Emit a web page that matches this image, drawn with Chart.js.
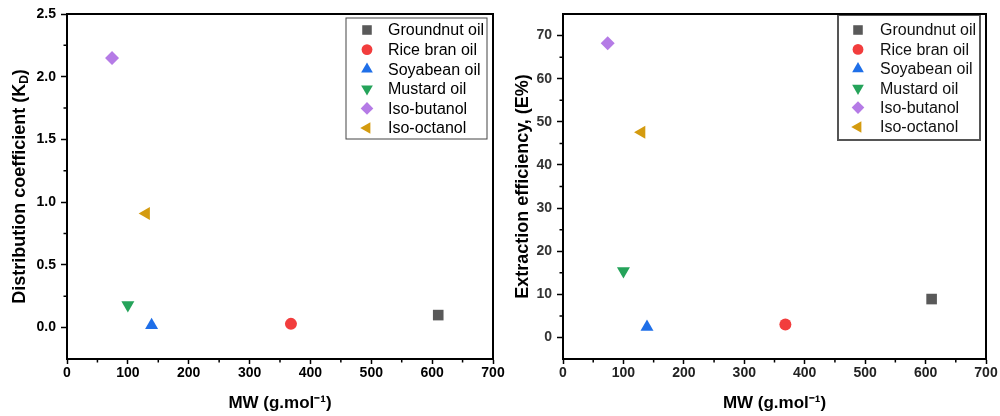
<!DOCTYPE html>
<html><head><meta charset="utf-8">
<script src="https://cdn.jsdelivr.net/npm/chart.js@4/dist/chart.umd.min.js"></script>
<style>
html,body{margin:0;padding:0;background:#fff;}
#wrap{position:relative;width:1000px;height:416px;overflow:hidden;background:#fff;}
.box{position:absolute;top:0;height:416px;}
</style></head><body>
<div id="wrap">
<div class="box" style="left:500px;width:500px"><canvas id="c2" width="500" height="416"></canvas></div>
<div class="box" style="left:0;width:520px"><canvas id="c1" width="520" height="416"></canvas></div>
</div>
<script>
// ---- data ----
const seriesNames = ['Groundnut oil','Rice bran oil','Soyabean oil','Mustard oil','Iso-butanol','Iso-octanol'];
const molecularWeight = [610, 368, 139, 100, 74, 130];
const distributionCoeff = [0.10, 0.03, 0.02, 0.18, 2.15, 0.91];
const extractionEff = [8.9, 3.0, 2.4, 15.4, 68.2, 47.6];
const mwTicks = [0, 100, 200, 300, 400, 500, 600, 700];
const kdTicks = [0.0, 0.5, 1.0, 1.5, 2.0, 2.5];
const effTicks = [0, 10, 20, 30, 40, 50, 60, 70];

// ---- styles ----
const seriesColors = ['#595959','#f23d3d','#1f6fe8','#25a35a','#b57be6','#d49b0f'];
const seriesShapes = ['rect','circle','triangle','triangle','rectRot','triangle'];
const seriesRotation = [0,0,0,180,0,270];
const seriesRadius = [7.5,6,7.5,7.5,7,7.5];
const FONT = '"Liberation Sans", Arial, sans-serif';

function makeDatasets(yVals){
  return seriesNames.map((n,i)=>({
    label:n,
    data:[{x:molecularWeight[i], y:yVals[i]}],
    pointStyle:seriesShapes[i],
    rotation:seriesRotation[i],
    pointRotation:seriesRotation[i],
    pointRadius:seriesRadius[i],
    pointHoverRadius:seriesRadius[i],
    backgroundColor:seriesColors[i],
    borderColor:seriesColors[i],
    borderWidth:0,
    showLine:false
  }));
}

const framePlugin = {
  id:'frame',
  afterDraw(chart){
    const {ctx, chartArea:a} = chart;
    ctx.save();
    ctx.strokeStyle='#000'; ctx.lineWidth=2;
    ctx.strokeRect(a.left, a.top, a.right-a.left, a.bottom-a.top);
    ctx.lineWidth=1.5;
    const xs = chart.scales.x, ys = chart.scales.y;
    const xv = xs.ticks.map(t=>t.value), yv = ys.ticks.map(t=>t.value);
    ctx.beginPath();
    for(let i=0;i<xv.length-1;i++){
      const p = xs.getPixelForValue((xv[i]+xv[i+1])/2);
      ctx.moveTo(p, a.bottom); ctx.lineTo(p, a.bottom+3.5);
    }
    for(let i=0;i<yv.length-1;i++){
      const p = ys.getPixelForValue((yv[i]+yv[i+1])/2);
      ctx.moveTo(a.left, p); ctx.lineTo(a.left-3.5, p);
    }
    ctx.stroke();
    ctx.restore();
  }
};

const boxLegend = {
  id:'boxLegend',
  afterDatasetsDraw(chart, args, o){
    const {ctx} = chart;
    ctx.save();
    ctx.fillStyle='#fff';
    ctx.fillRect(o.left, o.top, o.width, o.height);
    ctx.strokeStyle=o.border; ctx.lineWidth=o.borderWidth;
    ctx.strokeRect(o.left, o.top, o.width, o.height);
    chart.data.datasets.forEach((ds,i)=>{
      const y = o.top + o.firstRow + i*o.rowGap;
      ctx.fillStyle = ds.backgroundColor;
      ctx.strokeStyle = ds.borderColor;
      Chart.helpers.drawPoint(ctx,{pointStyle:ds.pointStyle, rotation:ds.rotation, radius:ds.pointRadius*0.9, borderWidth:0}, o.markerX, y);
      ctx.fillStyle = o.color;
      ctx.font = o.font;
      ctx.textBaseline='middle'; ctx.textAlign='left';
      ctx.fillText(ds.label, o.textX, y+1);
    });
    ctx.restore();
  }
};

const kdTitle = {
  id:'kdTitle',
  afterDraw(chart){
    const {ctx, chartArea:a} = chart;
    ctx.save();
    ctx.translate(20, (a.top+a.bottom)/2);
    ctx.rotate(-Math.PI/2);
    const big = 'bold 18px '+FONT, small = 'bold 12px '+FONT;
    const p1 = 'Distribution coefficient (K', sub = 'D', p2 = ')';
    ctx.font=big; const w1 = ctx.measureText(p1).width, w3 = ctx.measureText(p2).width;
    ctx.font=small; const w2 = ctx.measureText(sub).width;
    let x = -(w1+w2+w3)/2;
    ctx.fillStyle='#000'; ctx.textBaseline='middle'; ctx.textAlign='left';
    ctx.font=big; ctx.fillText(p1, x, 0); x+=w1;
    ctx.font=small; ctx.fillText(sub, x, 5); x+=w2;
    ctx.font=big; ctx.fillText(p2, x, 0);
    ctx.restore();
  }
};

function tickSet(arr){ return s => { s.ticks = arr.map(v=>({value:v})); }; }
function noPad(s){ s.paddingLeft=0; s.paddingRight=0; s.paddingTop=0; s.paddingBottom=0; }

function axisX(labelColor){
  return {
    type:'linear', position:'bottom', min:0, max:700,
    afterBuildTicks: tickSet(mwTicks),
    afterFit: s=>{ s.height=57; noPad(s); },
    ticks:{ font:{family:FONT,size:14,weight:'bold'}, color:labelColor, padding:1, maxRotation:0, autoSkip:false,
            callback:v=>String(v) },
    grid:{ drawOnChartArea:false, drawTicks:true, tickLength:5, tickColor:'#000', tickWidth:1.5 },
    border:{ display:true, color:'#000', width:2 },
    title:{ display:true, text:'MW (g.mol\u207B\u00B9)', color:'#000',
            font:{family:FONT,size:17,weight:'bold'}, padding:{top:0,bottom:2} }
  };
}

function baseOptions(){
  return {
    responsive:false, animation:false, devicePixelRatio:1,
    layout:{ padding:{left:0, top:14, right:0, bottom:0} },
    plugins:{ legend:{display:false}, tooltip:{enabled:false} },
    events:[]
  };
}

// ---- left chart ----
const o1 = baseOptions();
o1.layout.padding.right = 27;
o1.scales = {
  x: axisX('#000'),
  y: {
    type:'linear', min:-0.25, max:2.5,
    afterBuildTicks: tickSet(kdTicks),
    afterFit: s=>{ s.width=67; noPad(s); },
    ticks:{ font:{family:FONT,size:14,weight:'bold'}, color:'#000', padding:5, autoSkip:false,
            callback:v=>Number(v).toFixed(1) },
    grid:{ drawOnChartArea:false, drawTicks:true, tickLength:6, tickColor:'#000', tickWidth:1.5 },
    border:{ display:true, color:'#000', width:2 },
    title:{ display:false }
  }
};
o1.plugins.boxLegend = { left:346, top:18, width:141, height:121, firstRow:12, rowGap:19.6,
  markerX:367, textX:388, font:'16px '+FONT, color:'#000', border:'#444', borderWidth:1 };

new Chart(document.getElementById('c1'), {
  type:'scatter',
  data:{ datasets: makeDatasets(distributionCoeff) },
  options:o1,
  plugins:[framePlugin, boxLegend, kdTitle]
});

// ---- right chart ----
const o2 = baseOptions();
o2.layout.padding.right = 14;
o2.scales = {
  x: axisX('#222'),
  y: {
    type:'linear', min:-5, max:75,
    afterBuildTicks: tickSet(effTicks),
    afterFit: s=>{ s.width=63; noPad(s); },
    ticks:{ font:{family:FONT,size:14,weight:'bold'}, color:'#333', padding:5, autoSkip:false,
            callback:v=>String(v) },
    grid:{ drawOnChartArea:false, drawTicks:true, tickLength:6, tickColor:'#000', tickWidth:1.5 },
    border:{ display:true, color:'#000', width:2 },
    title:{ display:true, text:'Extraction efficiency, (E%)', color:'#000',
            font:{family:FONT,size:18,weight:'bold'}, padding:{top:12,bottom:0} }
  }
};
o2.plugins.boxLegend = { left:338, top:15, width:142, height:125, firstRow:15, rowGap:19.4,
  markerX:358, textX:380, font:'16px '+FONT, color:'#111', border:'#555', borderWidth:2 };

new Chart(document.getElementById('c2'), {
  type:'scatter',
  data:{ datasets: makeDatasets(extractionEff) },
  options:o2,
  plugins:[framePlugin, boxLegend]
});
</script>
</body></html>
